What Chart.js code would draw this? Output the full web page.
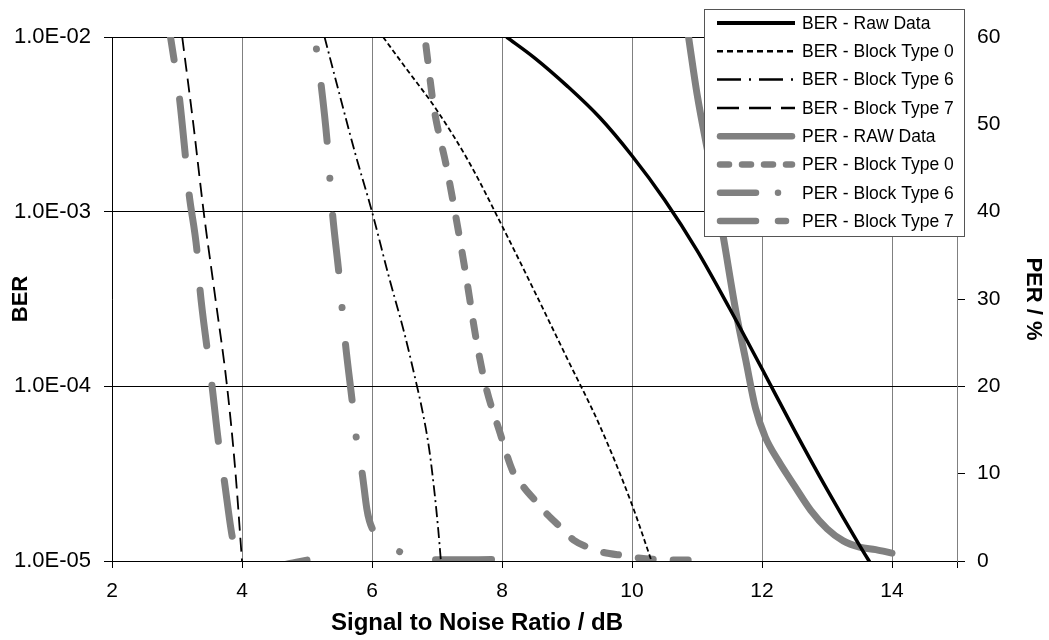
<!DOCTYPE html>
<html>
<head>
<meta charset="utf-8">
<script src="https://cdn.jsdelivr.net/npm/chart.js@4/dist/chart.umd.min.js"></script>
<style>
html,body{margin:0;padding:0;background:#fff;}
#wrap{width:1049px;height:640px;}
</style>
</head>
<body>
<div id="wrap"><canvas id="c" width="1049" height="640"></canvas></div>
<script>
// ---------- data ----------
const xTickValues = [2, 4, 6, 8, 10, 12, 14];
const berTickValues = [1e-5, 1e-4, 1e-3, 1e-2];
const berTickLabels = ['1.0E-05', '1.0E-04', '1.0E-03', '1.0E-02'];
const perTickValues = [0, 10, 20, 30, 40, 50, 60];
const xTitle = 'Signal to Noise Ratio / dB';

const berRawX = [8.07, 8.5, 9.0, 9.5, 10, 10.5, 11, 11.5, 12, 12.5, 13, 13.5, 13.7];
const berRawY = [1.0e-2, 7.6e-3, 5.25e-3, 3.47e-3, 2.09e-3, 1.17e-3, 6.0e-4, 2.8e-4, 1.26e-4, 5.6e-5, 2.57e-5, 1.23e-5, 9.3e-6];

const berT0X = [6.17, 6.5, 7, 7.5, 8, 8.5, 9, 9.5, 10, 10.3];
const berT0Y = [1.0e-2, 6.8e-3, 3.8e-3, 1.9e-3, 8.3e-4, 3.5e-4, 1.45e-4, 6.0e-5, 2.1e-5, 1.0e-5];

const berT6X = [5.27, 5.5, 5.75, 6.0, 6.25, 6.5, 6.65, 6.78, 6.88, 6.96, 7.02, 7.06];
const berT6Y = [1.0e-2, 4.7e-3, 2.1e-3, 1.0e-3, 4.37e-4, 2.0e-4, 1.17e-4, 7.1e-5, 4.37e-5, 2.5e-5, 1.5e-5, 1.0e-5];

const berT7X = [3.08, 3.25, 3.41, 3.59, 3.77, 3.9, 4.0];
const berT7Y = [1.0e-2, 3.2e-3, 1.0e-3, 3.2e-4, 1.0e-4, 3.2e-5, 1.0e-5];

const perRawX = [10.87, 11.0, 11.2, 11.4, 11.6, 11.75, 11.9, 12.05, 12.25, 12.5, 12.75, 13.0, 13.25, 13.5, 13.75, 14.0];
const perRawY = [60, 53.5, 45.5, 37.3, 28.5, 23, 17.5, 14.2, 11.5, 8.6, 5.8, 3.7, 2.3, 1.6, 1.3, 0.9];

const perT0X = [6.83, 6.95, 7.15, 7.3, 7.45, 7.6, 7.75, 7.96, 8.17, 8.35, 8.55, 8.7, 8.94, 9.1, 9.35, 9.55, 9.9, 10.1, 10.45, 11.0];
const perT0Y = [59, 52, 45, 39, 32.5, 25.5, 20, 14.9, 10.2, 8.3, 6.6, 5.3, 3.6, 2.4, 1.5, 1.0, 0.6, 0.35, 0.15, 0.1];

const perT6X = [5.12, 5.21, 5.31, 5.39, 5.49, 5.59, 5.7, 5.76, 5.85, 5.92, 5.96, 6.05, 6.2, 6.48, 6.75, 7.0, 7.5, 8.0];
const perT6Y = [60, 55, 48, 40, 33, 25, 18, 14, 10, 6, 4.6, 3.1, 2.0, 0.9, 0.35, 0.15, 0.15, 0.2];

const perT7X = [2.9, 3.03, 3.13, 3.18, 3.31, 3.35, 3.46, 3.53, 3.64, 3.72, 3.86, 3.95, 4.05, 4.4, 4.7, 5.0];
const perT7Y = [60, 53.5, 46.3, 42.4, 35.3, 31.4, 24.5, 20.6, 13.5, 9.6, 2.4, 0.6, 0, -0.6, -0.35, 0.1];

const seriesLabels = ['BER - Raw Data', 'BER - Block Type 0', 'BER - Block Type 6', 'BER - Block Type 7',
  'PER - RAW Data', 'PER - Block Type 0', 'PER - Block Type 6', 'PER - Block Type 7'];

// ---------- build ----------
const pts = (xs, ys) => xs.map((x, i) => ({x: x, y: ys[i]}));
const BLACK = '#000000', GRAY = '#808080';

function ds(label, xs, ys, axis, color, width, dash, dashOffset, legendDash, legendWidth) {
  return {
    label: label, data: pts(xs, ys), yAxisID: axis,
    borderColor: color, backgroundColor: color, borderWidth: width,
    borderDash: dash, borderDashOffset: dashOffset,
    borderCapStyle: width > 4 ? 'round' : 'butt',
    borderJoinStyle: 'round', pointRadius: 0, pointHoverRadius: 0,
    fill: false, cubicInterpolationMode: 'monotone', clip: 0,
    legendDash: legendDash, legendWidth: legendWidth
  };
}

const datasets = [
  ds(seriesLabels[0], berRawX, berRawY, 'y', BLACK, 3.5, [], 0, [], 4),
  ds(seriesLabels[1], berT0X, berT0Y, 'y', BLACK, 1.8, [5, 3], 0, [6, 4], 2.5),
  ds(seriesLabels[2], berT6X, berT6Y, 'y', BLACK, 1.8, [11, 4, 2, 4], 0, [24, 8, 2, 8], 2.5),
  ds(seriesLabels[3], berT7X, berT7Y, 'y', BLACK, 1.8, [14, 7], 0, [22, 10], 2.5),
  ds(seriesLabels[4], perRawX, perRawY, 'y2', GRAY, 7, [], 0, [], 6.5),
  ds(seriesLabels[5], perT0X, perT0Y, 'y2', GRAY, 7, [15, 20], 0, [9, 13], 6.5),
  ds(seriesLabels[6], perT6X, perT6Y, 'y2', GRAY, 7, [56, 37, 0.01, 37], -49, [36, 22, 0.01, 40], 6.5),
  ds(seriesLabels[7], perT7X, perT7Y, 'y2', GRAY, 7, [56, 40], 33, [36, 22, 8, 30], 6.5)
];

const legendPlugin = {
  id: 'customLegend',
  afterDraw(chart) {
    const ctx = chart.ctx;
    ctx.save();
    // x axis title
    ctx.fillStyle = '#000';
    ctx.font = 'bold 24px "Liberation Sans", Arial, sans-serif';
    ctx.textAlign = 'center';
    ctx.textBaseline = 'middle';
    ctx.fillText(xTitle, 477, 623);
    // legend box
    const bx = 704, by = 9, bw = 260, bh = 227;
    ctx.fillStyle = '#ffffff';
    ctx.fillRect(bx, by, bw, bh);
    ctx.strokeStyle = '#555555';
    ctx.lineWidth = 1;
    ctx.strokeRect(bx + 0.5, by + 0.5, bw, bh);
    chart.data.datasets.forEach((d, i) => {
      const cy = 23 + i * 28.3;
      const round = d.borderWidth > 4;
      ctx.beginPath();
      ctx.strokeStyle = d.borderColor;
      ctx.lineWidth = d.legendWidth;
      ctx.lineCap = round ? 'round' : 'butt';
      ctx.setLineDash(d.legendDash);
      ctx.moveTo(round ? 720 : 717, cy);
      ctx.lineTo(round ? 792 : 795, cy);
      ctx.stroke();
      ctx.setLineDash([]);
      ctx.fillStyle = '#000';
      ctx.font = '17.5px "Liberation Sans", Arial, sans-serif';
      ctx.textBaseline = 'middle';
      ctx.textAlign = 'left';
      ctx.fillText(d.label, 802, cy + 1);
    });
    ctx.restore();
  }
};

Chart.defaults.font.family = '"Liberation Sans", Arial, sans-serif';
Chart.defaults.color = '#000';

new Chart(document.getElementById('c'), {
  type: 'line',
  data: { datasets: datasets },
  options: {
    responsive: false,
    animation: false,
    events: [],
    layout: { padding: { top: 37, left: 0, right: 0, bottom: 0 } },
    plugins: { legend: { display: false }, tooltip: { enabled: false } },
    scales: {
      x: {
        type: 'linear', min: 2, max: 15,
        afterFit: s => { s.height = 79; },
        afterBuildTicks: s => { s.ticks = xTickValues.concat([15]).map(v => ({value: v})); },
        ticks: {
          font: { size: 21 }, padding: 11, maxRotation: 0, autoSkip: false,
          callback: v => (xTickValues.includes(v) ? String(v) : '')
        },
        grid: { color: GRAY, lineWidth: 1, tickColor: BLACK, tickLength: 7 },
        border: { display: true, color: BLACK, width: 1 },
        title: { display: false }
      },
      y: {
        type: 'logarithmic', position: 'left', min: 1e-5, max: 1e-2,
        afterFit: s => { s.width = 112; },
        afterBuildTicks: s => { s.ticks = berTickValues.map(v => ({value: v})); },
        ticks: {
          font: { size: 22 }, padding: 13, autoSkip: false,
          callback: (v) => { const i = berTickValues.findIndex(t => Math.abs(t - v) / t < 1e-6); return i >= 0 ? berTickLabels[i] : ''; }
        },
        grid: { color: BLACK, lineWidth: 1, tickColor: BLACK, tickLength: 8 },
        border: { display: true, color: BLACK, width: 1 },
        title: { display: true, text: 'BER', font: { size: 22, weight: 'bold' }, padding: { top: 8, bottom: 0 } }
      },
      y2: {
        type: 'linear', position: 'right', min: 0, max: 60,
        afterFit: s => { s.width = 92; },
        afterBuildTicks: s => { s.ticks = perTickValues.map(v => ({value: v})); },
        ticks: { font: { size: 21 }, padding: 12, autoSkip: false },
        grid: { drawOnChartArea: false, color: BLACK, tickColor: BLACK, tickLength: 8 },
        border: { display: true, color: GRAY, width: 1 },
        title: { display: true, text: 'PER / %', font: { size: 22, weight: 'bold' }, padding: { top: 3, bottom: 3 } }
      }
    }
  },
  plugins: [legendPlugin]
});
</script>
</body>
</html>
